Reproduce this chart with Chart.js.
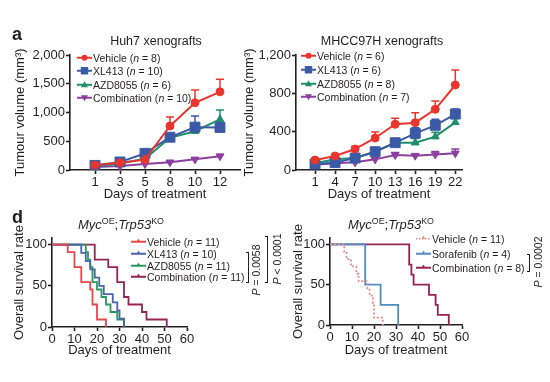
<!DOCTYPE html>
<html><head><meta charset="utf-8">
<script src="https://cdn.jsdelivr.net/npm/chart.js@4.4.1/dist/chart.umd.min.js"></script>
<style>
body{margin:0;background:#fff;width:550px;height:382px;overflow:hidden;position:relative;font-family:"Liberation Sans",Arial,sans-serif;color:#231f20}
canvas{position:absolute;left:0;top:0}
.t{position:absolute;white-space:nowrap;line-height:1}
.c{transform:translate(-50%,-50%)}
.leg{position:absolute;white-space:nowrap;font-size:10.5px;line-height:1;transform:translateY(-50%);display:flex;align-items:center}
.leg svg{margin-right:1px}
.br{position:absolute;border:1.2px solid #231f20;border-left:none;width:3px;box-sizing:border-box}
.rot{transform:translate(-50%,-50%) rotate(-90deg)}
sup{font-size:0.68em;vertical-align:0;position:relative;top:-0.55em}
</style></head><body>
<canvas id="cA" width="550" height="382"></canvas>
<canvas id="cB" width="550" height="382"></canvas>
<canvas id="cC" width="550" height="382"></canvas>
<canvas id="cD" width="550" height="382"></canvas>

<div class="t" style="left:12px;top:25px;font-size:18px;font-weight:bold">a</div>
<div class="t" style="left:12px;top:208px;font-size:18px;font-weight:bold">d</div>
<div class="t c" style="left:156px;top:41px;font-size:12.5px">Huh7 xenografts</div>
<div class="t c" style="left:382px;top:41px;font-size:12.5px">MHCC97H xenografts</div>
<div class="t c" style="left:121px;top:224px;font-size:13px"><i>Myc</i><sup>OE</sup>;<i>Trp53</i><sup>KO</sup></div>
<div class="t c" style="left:391px;top:224px;font-size:13px"><i>Myc</i><sup>OE</sup>;<i>Trp53</i><sup>KO</sup></div>

<div class="br" style="left:246px;top:252px;height:31px"></div>
<div class="t rot" style="left:256px;top:270px;font-size:10.5px"><i>P</i> = 0.0058</div>
<div class="br" style="left:265px;top:236px;height:47px"></div>
<div class="t rot" style="left:277px;top:259px;font-size:10.5px"><i>P</i> &lt; 0.0001</div>
<div class="br" style="left:527px;top:254px;height:18px"></div>
<div class="t rot" style="left:538px;top:262px;font-size:10.5px"><i>P</i> = 0.0002</div>

<div id="legends"></div>

<script>
// ---------- DATA ----------
const huhDays = ['1', '3', '5', '8', '10', '12'];
const huhVehicle = [85, 125, 180, 765, 1170, 1360];
const huhVehicleErr = [20, 20, 30, 155, 220, 220];
const huhXL413 = [80, 140, 290, 570, 745, 740];
const huhXL413Err = [15, 20, 40, 60, 195, 30];
const huhAZD8055 = [65, 115, 195, 560, 675, 880];
const huhAZD8055Err = [15, 20, 30, 50, 40, 165];
const huhCombination = [50, 70, 105, 135, 185, 240];
const huhCombinationErr = [10, 10, 15, 20, 25, 30];

const mhDays = [1, 4, 7, 10, 13, 16, 19, 22];
const mhVehicle = [104, 146, 219, 334, 477, 494, 633, 887];
const mhVehicleErr = [15, 15, 25, 63, 62, 104, 87, 156];
const mhXL413 = [63, 77, 125, 191, 285, 383, 466, 584];
const mhXL413Err = [10, 10, 15, 20, 20, 59, 63, 53];
const mhAZD8055 = [70, 111, 125, 191, 285, 285, 348, 497];
const mhAZD8055Err = [10, 10, 15, 20, 20, 45, 45, 40];
const mhCombination = [56, 70, 80, 111, 157, 150, 163, 174];
const mhCombinationErr = [10, 10, 10, 15, 25, 15, 30, 45];

const huhLabels = ['Vehicle (<i>n</i> = 8)', 'XL413 (<i>n</i> = 10)', 'AZD8055 (<i>n</i> = 6)', 'Combination (<i>n</i> = 10)'];
const mhLabels = ['Vehicle (<i>n</i> = 6)', 'XL413 (<i>n</i> = 6)', 'AZD8055 (<i>n</i> = 8)', 'Combination (<i>n</i> = 7)'];

// survival (Kaplan-Meier) — days and % surviving
const kmVehicleT = [0, 7, 10, 13, 17, 18, 20, 24];
const kmVehicleS = [100, 90.9, 72.7, 54.5, 45.5, 27.3, 9.1, 0];
const kmXL413T = [0, 13, 15, 17, 19, 21, 23, 27, 29, 30, 32];
const kmXL413S = [100, 90, 80, 70, 60, 50, 40, 30, 20, 10, 0];
const kmAZD8055T = [0, 15, 16, 17, 18, 20, 22, 24, 26, 29, 32];
const kmAZD8055S = [100, 90.9, 81.8, 72.7, 54.5, 45.5, 36.4, 27.3, 18.2, 9.1, 0];
const kmCombinationT = [0, 19, 25, 29, 32, 34, 40, 42, 51];
const kmCombinationS = [100, 81.8, 72.7, 54.5, 36.4, 27.3, 18.2, 9.1, 0];
const kmLabelsLeft = ['Vehicle (<i>n</i> = 11)', 'XL413 (<i>n</i> = 10)', 'AZD8055 (<i>n</i> = 11)', 'Combination (<i>n</i> = 11)'];

const km2VehicleT = [0, 6.5, 7.5, 9.5, 12, 13, 17, 18, 19.5, 20, 24];
const km2VehicleS = [100, 90.9, 81.8, 72.7, 63.6, 54.5, 45.5, 36.4, 27.3, 9.1, 0];
const km2SorafenibT = [0, 16, 23, 31];
const km2SorafenibS = [100, 50, 25, 0];
const km2CombinationT = [0, 36, 37, 38, 45, 48, 49, 54];
const km2CombinationS = [100, 75, 62.5, 50, 37.5, 25, 12.5, 0];
const kmLabelsRight = ['Vehicle (<i>n</i> = 11)', 'Sorafenib (<i>n</i> = 4)', 'Combination (<i>n</i> = 8)'];

const survTicksY = [0, 50, 100];
const huhTicksY = [0, 500, 1000, 1500, 2000];
const mhTicksY = [0, 400, 800, 1200];

// ---------- STYLE ----------
const F = '"Liberation Sans", Arial, sans-serif';
const INK = '#231f20';
const RED = '#e8352e', BLUE = '#3b5aa5', GREEN = '#1e8e6b', PURPLE = '#8c3f9f';
const KRED = '#e5484b', KBLUE = '#4a65aa', KGREEN = '#2a9a5c', MAROON = '#962452', SKY = '#4f8cc2', PINK = '#e98b8e';

const errorBars = {
  id: 'errorBars',
  beforeDatasetsDraw(chart) {
    const ctx = chart.ctx, ys = chart.scales.y;
    chart.data.datasets.forEach((ds, i) => {
      if (!ds.errors) return;
      const meta = chart.getDatasetMeta(i);
      ctx.save();
      ctx.strokeStyle = ds.borderColor; ctx.lineWidth = 1.5;
      meta.data.forEach((pt, j) => {
        const top = ys.getPixelForValue(ds.data[j].y + ds.errors[j]);
        ctx.beginPath();
        ctx.moveTo(pt.x, pt.y); ctx.lineTo(pt.x, top);
        ctx.moveTo(pt.x - 4, top); ctx.lineTo(pt.x + 4, top);
        ctx.stroke();
      });
      ctx.restore();
    });
  }
};

function axis(extra) {
  const base = {
    border: { display: true, color: INK, width: 1.6 },
    grid: { display: true, drawOnChartArea: false, drawTicks: true, tickLength: 4, tickWidth: 1.6, tickColor: INK },
    ticks: { color: INK, font: { family: F, size: 13 }, padding: 1, autoSkip: false, maxRotation: 0 },
  };
  return Object.assign(base, extra);
}
function title(text, pad) {
  return { display: true, text, color: INK, font: { family: F, size: 13 }, padding: pad };
}
const pts = (xs, ys) => ys.map((v, i) => ({ x: xs[i], y: v }));
const idx = huhDays.map((d, i) => i);

function growthSet(label, xs, ys, err, color, style, radius, rot) {
  return {
    label, data: pts(xs, ys), errors: err, borderColor: color, backgroundColor: color,
    borderWidth: 2, pointStyle: style, pointRadius: radius, pointRotation: rot || 0,
    pointBorderWidth: 1, pointBorderColor: color, pointBackgroundColor: color
  };
}
function kmSet(label, T, S, color, dash) {
  return {
    label, data: pts(T, S), borderColor: color, backgroundColor: color, borderWidth: 1.8,
    stepped: true, pointRadius: 0, borderDash: dash || []
  };
}
const common = { responsive: false, animation: false, events: [],
  plugins: { legend: { display: false }, tooltip: { enabled: false } } };

// ---------- Chart A: Huh7 ----------
new Chart(document.getElementById('cA'), {
  type: 'line',
  data: { datasets: [
    growthSet('Vehicle', idx, huhVehicle, huhVehicleErr, RED, 'circle', 4),
    growthSet('XL413', idx, huhXL413, huhXL413Err, BLUE, 'rect', 7),
    growthSet('AZD8055', idx, huhAZD8055, huhAZD8055Err, GREEN, 'triangle', 4.5),
    growthSet('Combination', idx, huhCombination, huhCombinationErr, PURPLE, 'triangle', 4.5, 180),
  ]},
  options: Object.assign({}, common, {
    layout: { padding: { left: 10, top: 55, right: 310, bottom: 178 } },
    scales: {
      x: axis({ type: 'linear', min: -1, max: 5.8,
        afterBuildTicks: s => { s.ticks = idx.map(v => ({ value: v })); },
        afterFit: s => { s.height = 34; },
        title: title('Days of treatment', { top: 0, bottom: 2 }) }),
      y: axis({ type: 'linear', min: 0, max: 2000,
        afterBuildTicks: s => { s.ticks = huhTicksY.map(v => ({ value: v })); },
        afterFit: s => { s.width = 60; },
        title: title('Tumour volume (mm³)', { top: 3, bottom: 0 }) }),
    }
  }),
  plugins: [errorBars]
});
Chart.getChart('cA').options.scales.x.ticks.callback = v => huhDays[v];
Chart.getChart('cA').options.scales.y.ticks.callback = v => v.toLocaleString('en-US');
Chart.getChart('cA').update();

// ---------- Chart B: MHCC97H ----------
new Chart(document.getElementById('cB'), {
  type: 'line',
  data: { datasets: [
    growthSet('Vehicle', mhDays, mhVehicle, mhVehicleErr, RED, 'circle', 4),
    growthSet('XL413', mhDays, mhXL413, mhXL413Err, BLUE, 'rect', 7),
    growthSet('AZD8055', mhDays, mhAZD8055, mhAZD8055Err, GREEN, 'triangle', 4.5),
    growthSet('Combination', mhDays, mhCombination, mhCombinationErr, PURPLE, 'triangle', 4.5, 180),
  ]},
  options: Object.assign({}, common, {
    layout: { padding: { left: 242, top: 55, right: 88, bottom: 178 } },
    scales: {
      x: axis({ type: 'linear', min: -1.85, max: 23,
        afterBuildTicks: s => { s.ticks = mhDays.map(v => ({ value: v })); },
        afterFit: s => { s.height = 34; },
        title: title('Days of treatment', { top: 0, bottom: 2 }) }),
      y: axis({ type: 'linear', min: 0, max: 1200,
        afterBuildTicks: s => { s.ticks = mhTicksY.map(v => ({ value: v })); },
        afterFit: s => { s.width = 54; },
        title: title('Tumour volume (mm³)', { top: 0, bottom: 0 }) }),
    }
  }),
  plugins: [errorBars]
});
Chart.getChart('cB').options.scales.y.ticks.callback = v => v.toLocaleString('en-US');
Chart.getChart('cB').update();

// ---------- Chart C: survival left ----------
new Chart(document.getElementById('cC'), {
  type: 'line',
  data: { datasets: [
    kmSet('Vehicle', kmVehicleT, kmVehicleS, KRED),
    kmSet('XL413', kmXL413T, kmXL413S, KBLUE),
    kmSet('AZD8055', kmAZD8055T, kmAZD8055S, KGREEN),
    kmSet('Combination', kmCombinationT, kmCombinationS, MAROON),
  ]},
  options: Object.assign({}, common, {
    layout: { padding: { left: 8, top: 238, right: 363, bottom: 21 } },
    scales: {
      x: axis({ type: 'linear', min: 0, max: 60, ticks: { color: INK, font: { family: F, size: 13 }, stepSize: 10, padding: 1, maxRotation: 0, autoSkip: false },
        afterFit: s => { s.height = 34; },
        title: title('Days of treatment', { top: 0, bottom: 3 }) }),
      y: axis({ type: 'linear', min: 0, max: 108,
        afterBuildTicks: s => { s.ticks = survTicksY.map(v => ({ value: v })); },
        afterFit: s => { s.width = 44; },
        title: title('Overall survival rate', { top: 4, bottom: 0 }) }),
    }
  })
});

// ---------- Chart D: survival right ----------
new Chart(document.getElementById('cD'), {
  type: 'line',
  data: { datasets: [
    kmSet('Vehicle', km2VehicleT, km2VehicleS, PINK, [2, 2]),
    kmSet('Sorafenib', km2SorafenibT, km2SorafenibS, SKY),
    kmSet('Combination', km2CombinationT, km2CombinationS, MAROON),
  ]},
  options: Object.assign({}, common, {
    layout: { padding: { left: 288, top: 238, right: 88, bottom: 23 } },
    scales: {
      x: axis({ type: 'linear', min: 0, max: 60, ticks: { color: INK, font: { family: F, size: 13 }, stepSize: 10, padding: 1, maxRotation: 0, autoSkip: false },
        afterFit: s => { s.height = 34; },
        title: title('Days of treatment', { top: 0, bottom: 1 }) }),
      y: axis({ type: 'linear', min: 0, max: 108,
        afterBuildTicks: s => { s.ticks = survTicksY.map(v => ({ value: v })); },
        afterFit: s => { s.width = 42; },
        title: title('Overall survival rate', { top: 3, bottom: 0 }) }),
    }
  })
});

// ---------- HTML legends ----------
function marker(kind, color) {
  let s = '<svg width="15" height="10" viewBox="0 0 15 10">';
  if (kind === 'dot') s += `<line x1="0" y1="5" x2="15" y2="5" stroke="${color}" stroke-width="1.5" stroke-dasharray="1.5 1.5"/>`;
  else s += `<line x1="0" y1="5" x2="15" y2="5" stroke="${color}" stroke-width="1.8"/>`;
  if (kind === 'circle') s += `<circle cx="7.5" cy="5" r="3" fill="${color}"/>`;
  if (kind === 'rect') s += `<rect x="3.8" y="1.3" width="7.4" height="7.4" fill="${color}"/>`;
  if (kind === 'tri') s += `<polygon points="7.5,1.5 11,7.5 4,7.5" fill="${color}"/>`;
  if (kind === 'itri') s += `<polygon points="7.5,8.5 11,2.5 4,2.5" fill="${color}"/>`;
  if (kind === 'km' || kind === 'dot') s += `<polygon points="7.5,1.8 9.3,5 5.7,5" fill="${color}"/>`;
  return s + '</svg>';
}
function legend(x, rows, labels, kinds, colors) {
  let h = '';
  labels.forEach((l, i) => {
    h += `<div class="leg" style="left:${x}px;top:${rows[i]}px">${marker(kinds[i], colors[i])}<span>${l}</span></div>`;
  });
  document.getElementById('legends').insertAdjacentHTML('beforeend', h);
}
const gKinds = ['circle', 'rect', 'tri', 'itri'];
legend(77, [58, 71, 84.5, 98], huhLabels, gKinds, [RED, BLUE, GREEN, PURPLE]);
legend(301, [56, 70, 83.5, 96.5], mhLabels, gKinds, [RED, BLUE, GREEN, PURPLE]);
legend(131, [242, 254, 266, 277], kmLabelsLeft, ['km', 'km', 'km', 'km'], [KRED, KBLUE, KGREEN, MAROON]);
legend(416, [239, 254, 268], kmLabelsRight, ['dot', 'km', 'km'], [PINK, SKY, MAROON]);
</script>
</body></html>
